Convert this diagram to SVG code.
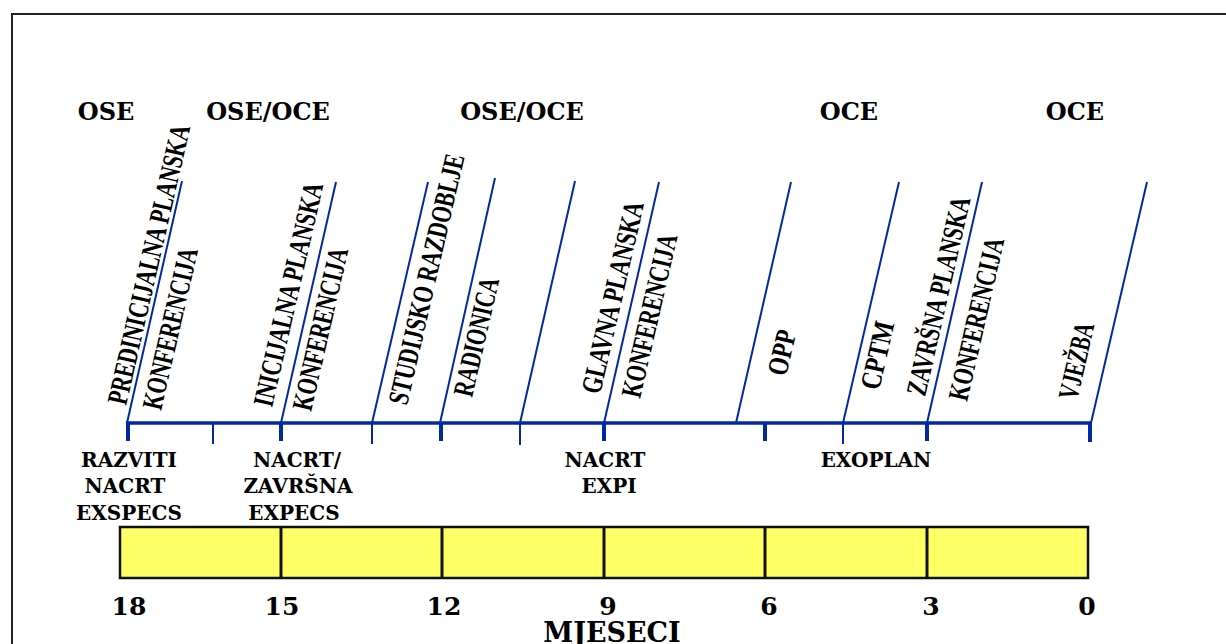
<svg xmlns="http://www.w3.org/2000/svg" width="1226" height="644" viewBox="0 0 1226 644">
<style>
.hl{font-family:"DejaVu Serif","Liberation Serif",serif;font-weight:bold;fill:#000;text-anchor:middle}
.top{font-size:24px}
.sub{font-size:20px}
.num{font-size:25px}
.ttl{font-size:27px}
.rot{font-family:"Liberation Serif","Times New Roman",serif;font-weight:bold;font-size:29px;fill:#000}
.ax{stroke:#0029A3;fill:none}
.slant{stroke:#0029A3;stroke-width:2;fill:none}
.bar{fill:#FFFF66;stroke:#111;stroke-width:2.5}
</style>
<rect x="0" y="0" width="1226" height="644" fill="#fff"/>
<rect x="12" y="14" width="1240" height="660" fill="none" stroke="#222" stroke-width="2"/>

<g id="phase-labels">
<text class="hl top" x="106" y="120">OSE</text>
<text class="hl top" x="268" y="120">OSE/OCE</text>
<text class="hl top" x="522" y="120">OSE/OCE</text>
<text class="hl top" x="849" y="120">OCE</text>
<text class="hl top" x="1075" y="120">OCE</text>
</g>

<g id="connectors">
<line class="ax" x1="126" y1="423" x2="1092" y2="423" stroke-width="3.5"/>
<g stroke-width="4" class="ax">
<line x1="128" y1="423" x2="128" y2="441"/>
<line x1="281" y1="423" x2="281" y2="441"/>
<line x1="441" y1="423" x2="441" y2="441"/>
<line x1="604" y1="423" x2="604" y2="441"/>
<line x1="765" y1="423" x2="765" y2="441"/>
<line x1="927" y1="423" x2="927" y2="441"/>
<line x1="1090" y1="423" x2="1090" y2="442"/>
</g>
<g stroke-width="2" class="ax">
<line x1="213" y1="423" x2="213" y2="444"/>
<line x1="372" y1="423" x2="372" y2="444"/>
<line x1="520" y1="423" x2="520" y2="445"/>
<line x1="843" y1="423" x2="843" y2="444"/>
</g>
<line class="slant" x1="127" y1="423" x2="182" y2="181"/>
<line class="slant" x1="281" y1="423" x2="336" y2="182"/>
<line class="slant" x1="372" y1="423" x2="428" y2="182"/>
<line class="slant" x1="440" y1="423" x2="495" y2="178"/>
<line class="slant" x1="520" y1="423" x2="575" y2="181"/>
<line class="slant" x1="604" y1="423" x2="659" y2="182"/>
<line class="slant" x1="736" y1="423" x2="791" y2="182"/>
<line class="slant" x1="843" y1="423" x2="899" y2="182"/>
<line class="slant" x1="927" y1="423" x2="982" y2="182"/>
<line class="slant" x1="1091" y1="423" x2="1147" y2="182"/>
</g>

<g id="event-predinicijalna">
<text class="rot" transform="translate(126,406) rotate(-77)" textLength="286" lengthAdjust="spacingAndGlyphs">PREDINICIJALNA PLANSKA</text>
<text class="rot" transform="translate(161,411) rotate(-77)" textLength="165" lengthAdjust="spacingAndGlyphs">KONFERENCIJA</text>
</g>
<g id="event-inicijalna">
<text class="rot" transform="translate(272,408) rotate(-77)" textLength="229" lengthAdjust="spacingAndGlyphs">INICIJALNA PLANSKA</text>
<text class="rot" transform="translate(311,412) rotate(-77)" textLength="166" lengthAdjust="spacingAndGlyphs">KONFERENCIJA</text>
</g>
<g id="event-studijsko">
<text class="rot" transform="translate(407,406) rotate(-77)" textLength="256" lengthAdjust="spacingAndGlyphs">STUDIJSKO RAZDOBLJE</text>
</g>
<g id="event-radionica">
<text class="rot" transform="translate(472,398) rotate(-77)" textLength="121" lengthAdjust="spacingAndGlyphs">RADIONICA</text>
</g>
<g id="event-glavna">
<text class="rot" transform="translate(600,395) rotate(-77)" textLength="196" lengthAdjust="spacingAndGlyphs">GLAVNA PLANSKA</text>
<text class="rot" transform="translate(640,399) rotate(-77)" textLength="167" lengthAdjust="spacingAndGlyphs">KONFERENCIJA</text>
</g>
<g id="event-opp">
<text class="rot" transform="translate(786,377) rotate(-77)" textLength="46" lengthAdjust="spacingAndGlyphs">OPP</text>
</g>
<g id="event-cptm">
<text class="rot" transform="translate(879,391) rotate(-77)" textLength="69" lengthAdjust="spacingAndGlyphs">CPTM</text>
</g>
<g id="event-zavrsna">
<text class="rot" transform="translate(925,397) rotate(-77)" textLength="203" lengthAdjust="spacingAndGlyphs">ZAVRŠNA PLANSKA</text>
<text class="rot" transform="translate(967,402) rotate(-77)" textLength="166" lengthAdjust="spacingAndGlyphs">KONFERENCIJA</text>
</g>
<g id="event-vjezba">
<text class="rot" transform="translate(1077,401) rotate(-77)" textLength="78" lengthAdjust="spacingAndGlyphs">VJEŽBA</text>
</g>

<g id="product-exspecs">
<text class="hl sub" x="129" y="467">RAZVITI</text>
<text class="hl sub" x="125" y="493">NACRT</text>
<text class="hl sub" x="129" y="520">EXSPECS</text>
</g>
<g id="product-expecs">
<text class="hl sub" x="297" y="467">NACRT/</text>
<text class="hl sub" x="298" y="493">ZAVRŠNA</text>
<text class="hl sub" x="294" y="520">EXPECS</text>
</g>
<g id="product-expi">
<text class="hl sub" x="605" y="467">NACRT</text>
<text class="hl sub" x="609" y="493">EXPI</text>
</g>
<g id="product-exoplan">
<text class="hl sub" x="876" y="467">EXOPLAN</text>
</g>

<g id="timeline-bar">
<rect class="bar" x="120" y="527" width="968" height="51"/>
<g stroke="#111" stroke-width="3">
<line x1="281" y1="527" x2="281" y2="578"/>
<line x1="442" y1="527" x2="442" y2="578"/>
<line x1="604" y1="527" x2="604" y2="578"/>
<line x1="765" y1="527" x2="765" y2="578"/>
<line x1="927" y1="527" x2="927" y2="578"/>
</g>
</g>

<g id="month-scale">
<text class="hl num" x="129" y="615">18</text>
<text class="hl num" x="282" y="615">15</text>
<text class="hl num" x="444" y="615">12</text>
<text class="hl num" x="608" y="615">9</text>
<text class="hl num" x="769" y="615">6</text>
<text class="hl num" x="931" y="615">3</text>
<text class="hl num" x="1087" y="615">0</text>
<text class="hl ttl" x="612" y="642">MJESECI</text>
</g>
</svg>
